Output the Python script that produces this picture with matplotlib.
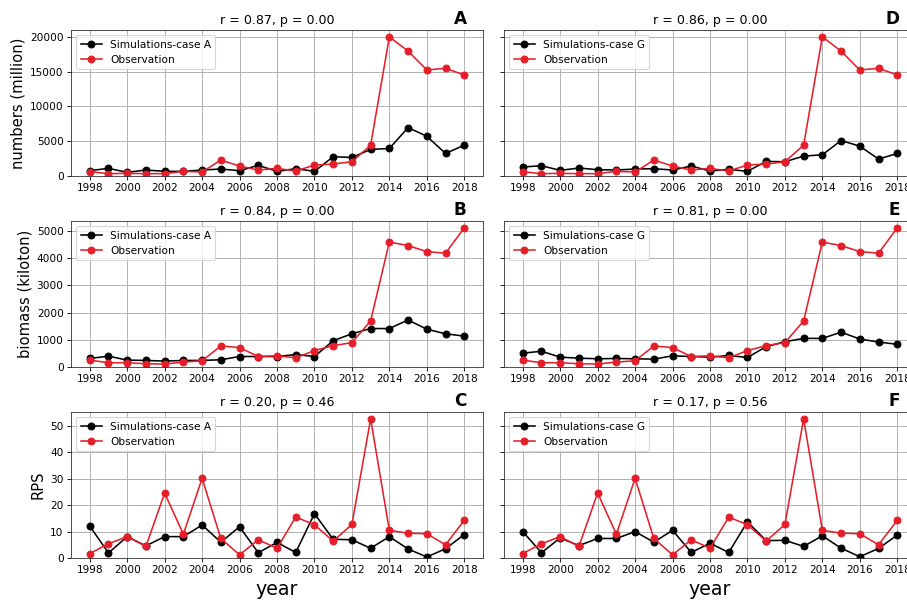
import numpy as np
import matplotlib.pyplot as plt

years = np.arange(1998, 2019)

# observations
obs_numbers = [619, 333, 381, 333, 333, 667, 571, 2286, 1429, 857, 1095,
               714, 1571, 1714, 2048, 4429, 20000, 17952, 15238, 15476, 14524]
obs_biomass = [254, 157, 157, 121, 109, 181, 229, 773, 713, 386, 411,
               338, 604, 785, 894, 1691, 4589, 4457, 4239, 4179, 5110]
obs_rps = [1.7, 5.4, 8.1, 4.4, 24.6, 9.0, 30.2, 7.4, 1.2, 6.9, 3.7,
           15.5, 12.6, 6.4, 12.7, 52.7, 10.5, 9.4, 9.2, 5.0, 14.3]

# simulations, case A
simA_numbers = [762, 1095, 524, 857, 667, 667, 857, 1000, 762, 1524, 667,
                1048, 667, 2762, 2667, 3810, 3952, 6952, 5714, 3238, 4429]
simA_biomass = [314, 399, 254, 242, 217, 242, 242, 266, 386, 386, 386,
                459, 386, 966, 1220, 1413, 1413, 1727, 1389, 1220, 1135]
simA_rps = [12.1, 1.9, 8.1, 4.6, 8.1, 8.1, 12.5, 6.0, 11.8, 2.0, 5.9,
            2.1, 16.8, 7.1, 6.9, 3.7, 8.1, 3.4, 0.4, 3.5, 8.9]

# simulations, case G
simG_numbers = [1286, 1476, 810, 1143, 905, 857, 1000, 1048, 857, 1429, 714,
                952, 667, 2095, 2048, 2857, 3048, 5095, 4286, 2429, 3238]
simG_biomass = [507, 580, 362, 326, 302, 314, 302, 290, 411, 386, 362,
                423, 350, 749, 930, 1051, 1051, 1280, 1027, 918, 833]
simG_rps = [10.0, 2.0, 7.6, 4.7, 7.4, 7.4, 10.0, 6.0, 10.5, 2.1, 5.6,
            2.1, 13.7, 6.6, 6.7, 4.4, 8.4, 3.7, 0.5, 3.6, 8.7]

titles = [["r = 0.87, p = 0.00", "r = 0.86, p = 0.00"],
          ["r = 0.84, p = 0.00", "r = 0.81, p = 0.00"],
          ["r = 0.20, p = 0.46", "r = 0.17, p = 0.56"]]
letters = [["A", "D"], ["B", "E"], ["C", "F"]]
ylabels = ["numbers (million)", "biomass (kiloton)", "RPS"]
cases = ["Simulations-case A", "Simulations-case G"]
sims = [[simA_numbers, simG_numbers],
        [simA_biomass, simG_biomass],
        [simA_rps, simG_rps]]
obs = [obs_numbers, obs_biomass, obs_rps]

red = '#e61e2a'

fig = plt.figure(figsize=(907/76, 600/76), dpi=76)
lefts = [0.0783, 0.5557]
bottoms = [0.7067, 0.3883, 0.07]
w, h = 0.4542, 0.2433

for i in range(3):
    for j in range(2):
        ax = fig.add_axes([lefts[j], bottoms[i], w, h])
        ax.plot(years, sims[i][j], 'o-', color='black', ms=6.5, label=cases[j])
        ax.plot(years, obs[i], 'o-', color=red, ms=6.5, label='Observation')
        ax.set_xticks(np.arange(1998, 2019, 2))
        ax.set_ylim(bottom=0)
        ax.grid(True, color='#b0b0b0', linewidth=0.9)
        ax.set_axisbelow(True)
        for s in ax.spines.values():
            s.set_color('#333333')
        ax.legend(loc='upper left')
        ax.set_title(titles[i][j], fontsize=12)
        ax.text(0.96, 1.043, letters[i][j], transform=ax.transAxes,
                ha='right', va='baseline', fontsize=16, fontweight='bold')
        if j == 0:
            ax.set_ylabel(ylabels[i], fontsize=14)
        else:
            ax.tick_params(axis='y', labelleft=False)
        if i == 2:
            ax.set_xlabel('year', fontsize=18)

fig.savefig('out.png', dpi=76)
